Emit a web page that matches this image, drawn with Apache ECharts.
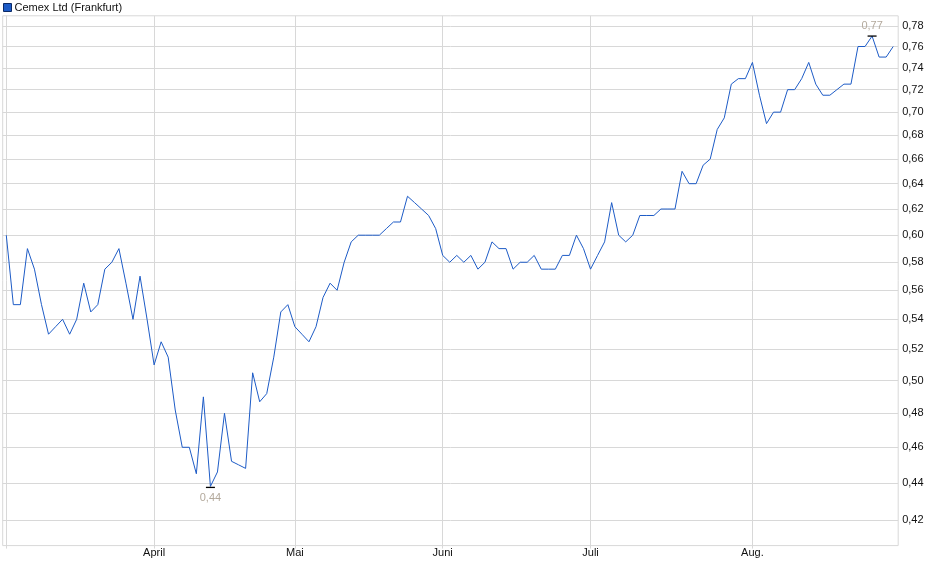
<!DOCTYPE html>
<html>
<head>
<meta charset="utf-8">
<script src="https://cdn.jsdelivr.net/npm/echarts@6/dist/echarts.min.js"></script>
<style>
html,body{margin:0;padding:0;background:#fff;}
#chart{width:940px;height:579px;}
</style>
</head>
<body>
<div id="chart"></div>
<script>
// Trading-day closing prices, Cemex Ltd (Frankfurt), early March to end of August
const seriesName = 'Cemex Ltd (Frankfurt)';
const prices = [
  0.60, 0.55, 0.55, 0.59, 0.575, 0.55, 0.53, 0.535, 0.54, 0.53,
  0.54, 0.565, 0.545, 0.55, 0.575, 0.58, 0.59, 0.565, 0.54, 0.57,
  0.54, 0.51, 0.525, 0.515, 0.482, 0.46, 0.46, 0.445, 0.49, 0.438,
  0.446, 0.48, 0.452, 0.45, 0.448, 0.505, 0.487, 0.492, 0.515, 0.545,
  0.55, 0.535, 0.53, 0.525, 0.535, 0.555, 0.565, 0.56, 0.58, 0.595,
  0.60, 0.60, 0.60, 0.60, 0.605, 0.61, 0.61, 0.63, 0.625, 0.62,
  0.615, 0.605, 0.585, 0.58, 0.585, 0.58, 0.585, 0.575, 0.58, 0.595,
  0.59, 0.59, 0.575, 0.58, 0.58, 0.585, 0.575, 0.575, 0.575, 0.585,
  0.585, 0.60, 0.59, 0.575, 0.585, 0.595, 0.625, 0.60, 0.595, 0.60,
  0.615, 0.615, 0.615, 0.62, 0.62, 0.62, 0.65, 0.64, 0.64, 0.655,
  0.66, 0.685, 0.695, 0.725, 0.73, 0.73, 0.745, 0.715, 0.69, 0.70,
  0.70, 0.72, 0.72, 0.73, 0.745, 0.725, 0.715, 0.715, 0.72, 0.725,
  0.725, 0.76, 0.76, 0.77, 0.75, 0.75, 0.76
];
// index of first trading day of each month (March, April, Mai, Juni, Juli, Aug.)
const monthStartIdx = [0, 21, 41, 62, 83, 106];
const monthLabels = ['', 'April', 'Mai', 'Juni', 'Juli', 'Aug.'];
const yTicks = [0.42, 0.44, 0.46, 0.48, 0.50, 0.52, 0.54, 0.56, 0.58, 0.60,
                0.62, 0.64, 0.66, 0.68, 0.70, 0.72, 0.74, 0.76, 0.78];

const fmt = v => v.toFixed(2).replace('.', ',');
const FONT = "'Liberation Sans', Arial, sans-serif";
const GRID = '#d8d8d8';
const LINE = '#1d5bc6';

const chart = echarts.init(document.getElementById('chart'), null, {renderer: 'canvas'});
chart.setOption({
  animation: false,
  textStyle: {fontFamily: FONT},
  legend: {
    left: 3, top: 2, padding: 0,
    icon: 'rect', itemWidth: 8, itemHeight: 8, itemGap: 4,
    textStyle: {fontFamily: FONT, fontSize: 11, color: '#111', padding: [0, 0, 0, -2]},
    data: [{name: seriesName, itemStyle: {color: LINE, borderColor: '#0c2a66', borderWidth: 1}}]
  },
  grid: {
    left: 2.7, right: 41.8, top: 15.8, bottom: 33.4,
    show: true, borderColor: GRID, borderWidth: 1, containLabel: false
  },
  xAxis: {
    type: 'value',
    min: -0.51, max: 126.71,
    axisLine: {show: false},
    axisTick: {show: true, length: 3, lineStyle: {color: GRID}, customValues: monthStartIdx},
    axisLabel: {
      show: true, margin: 2, fontSize: 11, color: '#111', fontFamily: FONT,
      customValues: monthStartIdx.slice(1),
      formatter: v => monthLabels[monthStartIdx.indexOf(Math.round(v))] || ''
    },
    splitLine: {show: true, lineStyle: {color: GRID, width: 1}}
  },
  yAxis: {
    type: 'log', logBase: 10,
    position: 'right',
    min: 0.4067, max: 0.7898,
    axisLine: {show: false},
    axisTick: {show: false, customValues: yTicks},
    axisLabel: {
      margin: 4, fontSize: 11, color: '#111', fontFamily: FONT,
      customValues: yTicks,
      formatter: v => fmt(v)
    },
    splitLine: {show: true, lineStyle: {color: GRID, width: 1}}
  },
  series: [{
    name: seriesName,
    type: 'line',
    data: prices.map((v, i) => [i, v]),
    showSymbol: false,
    lineStyle: {color: LINE, width: 1},
    itemStyle: {color: LINE},
    markPoint: {
      symbol: 'rect',
      symbolSize: [9, 1.3],
      itemStyle: {color: '#000'},
      label: {fontFamily: FONT, fontSize: 11, color: '#b3a99c', formatter: p => fmt(p.value)},
      data: [
        {type: 'min', symbolOffset: [0, 1], label: {position: 'bottom', distance: 4}},
        {type: 'max', symbolOffset: [0, 0], label: {position: 'top', distance: 4}}
      ]
    }
  }]
});
</script>
</body>
</html>
